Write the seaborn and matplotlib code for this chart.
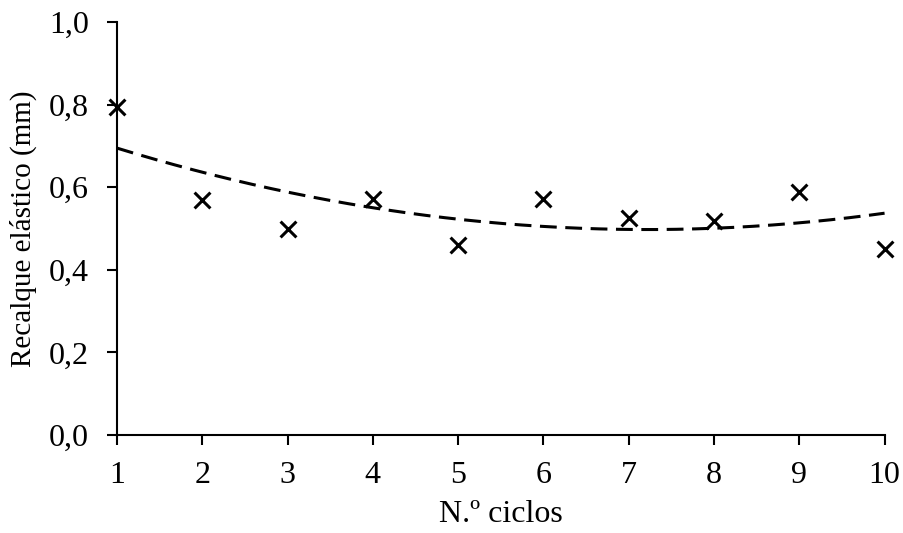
import numpy as np
import pandas as pd
import seaborn as sns
import matplotlib.pyplot as plt
from matplotlib.ticker import FuncFormatter, MultipleLocator

# data
ciclos = [1, 2, 3, 4, 5, 6, 7, 8, 9, 10]
recalque = [0.794, 0.569, 0.499, 0.571, 0.460, 0.571, 0.525, 0.519, 0.588, 0.450]

df = pd.DataFrame({"ciclos": ciclos, "recalque": recalque})

sns.set_style("ticks")
plt.rcParams['font.family'] = ['Liberation Serif', 'DejaVu Serif']

fig = plt.figure(figsize=(9.04, 5.33), dpi=100)
ax = fig.add_axes([0.1294, 0.1839, 0.8491, 0.7748])

# 2nd order polynomial trend line, like a spreadsheet trendline
coef = np.polyfit(df["ciclos"], df["recalque"], 2)
xs = np.linspace(1, 10, 200)
trend = pd.DataFrame({"ciclos": xs, "recalque": np.polyval(coef, xs)})
sns.lineplot(data=trend, x="ciclos", y="recalque", ax=ax, color="black",
             linestyle=(0, (5.5, 2.8)), linewidth=2.2)

sns.scatterplot(data=df, x="ciclos", y="recalque", ax=ax, marker="x",
                color="black", s=130, linewidth=2.2, zorder=3, clip_on=False)

ax.set_xlim(1, 10)
ax.set_ylim(0, 1.0)
ax.xaxis.set_major_locator(MultipleLocator(1))
ax.yaxis.set_major_locator(MultipleLocator(0.2))
ax.yaxis.set_major_formatter(FuncFormatter(lambda v, p: f"{v:.1f}".replace(".", ",")))

for side in ["top", "right"]:
    ax.spines[side].set_visible(False)
for side in ["left", "bottom"]:
    ax.spines[side].set_linewidth(1.5)
    ax.spines[side].set_color("black")
ax.tick_params(axis="both", direction="out", length=7, width=1.5,
               labelsize=23, colors="black")
ax.tick_params(axis="y", pad=13)
ax.tick_params(axis="x", pad=12)

ax.set_xlabel("N.º ciclos", fontsize=23, labelpad=7, color="black")
ax.set_ylabel("Recalque elástico (mm)", fontsize=21, labelpad=9, color="black")

fig.savefig("out.png", dpi=100)
